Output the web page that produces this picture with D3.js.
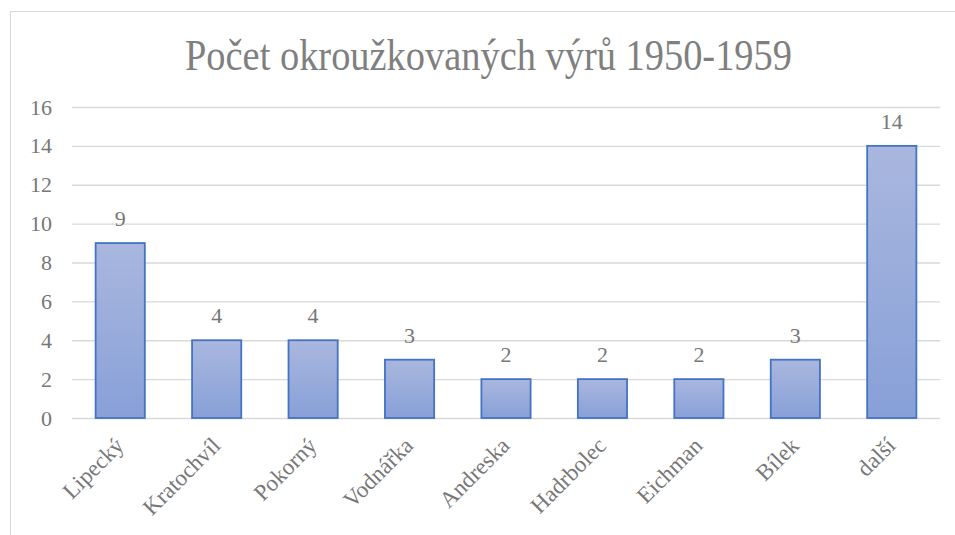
<!DOCTYPE html>
<html><head><meta charset="utf-8">
<script src="https://cdn.jsdelivr.net/npm/d3@7"></script>
</head><body style="margin:0">
<script>
const title = "Počet okroužkovaných výrů 1950-1959";
const categories = ["Lipecký","Kratochvíl","Pokorný","Vodnářka","Andreska","Hadrbolec","Eichman","Bílek","další"];
const values = [9,4,4,3,2,2,2,3,14];
const yTicks = [0,2,4,6,8,10,12,14,16];

const W = 955, H = 535;
const FF = '"Liberation Serif"';
const svg = d3.select("body").append("svg").attr("width", W).attr("height", H)
  .style("display","block").style("font-family", FF);

const defs = svg.append("defs");
const grad = defs.append("linearGradient").attr("id","bg").attr("x1",0).attr("y1",0).attr("x2",0).attr("y2",1);
grad.append("stop").attr("offset","0%").attr("stop-color","#a9b7de");
grad.append("stop").attr("offset","100%").attr("stop-color","#88a0d8");

svg.append("rect").attr("x",10.5).attr("y",11.5).attr("width",960).attr("height",540)
  .attr("fill","#fff").attr("stroke","#d9d9d9");

const m = {left:72, right:15, top:107, bottom:117};
const x = d3.scaleBand().domain(categories).range([m.left, W - m.right]).paddingInner(0.49).paddingOuter(0.245);
const y = d3.scaleLinear().domain([0,16]).range([H - m.bottom, m.top]);

svg.append("text").attr("x", 488.5).attr("y", 70).attr("text-anchor","middle")
  .style("font-family",FF).style("font-size","44px").attr("fill","#7f7f7f")
  .attr("textLength",607).attr("lengthAdjust","spacingAndGlyphs").text(title);

const yAxis = svg.append("g").attr("transform",`translate(${m.left},0)`)
  .call(d3.axisLeft(y).tickValues(yTicks).tickSize(-(W - m.right - m.left)).tickPadding(20));
yAxis.attr("font-family", null).attr("font-size", null);
yAxis.select(".domain").remove();
yAxis.selectAll(".tick line").attr("stroke","#d9d9d9").attr("stroke-width",1.3);
yAxis.selectAll(".tick text").style("font-family",FF).style("font-size","22px").attr("fill","#777777");

svg.selectAll("rect.bar").data(values).join("rect").attr("class","bar")
  .attr("x",(d,i)=>x(categories[i])).attr("width",x.bandwidth())
  .attr("y",d=>y(d)).attr("height",d=>y(0)-y(d))
  .attr("fill","url(#bg)").attr("stroke","#4472c4").attr("stroke-width",1.8);

svg.selectAll("text.val").data(values).join("text").attr("class","val")
  .attr("x",(d,i)=>x(categories[i])+x.bandwidth()/2).attr("y",d=>y(d)-17)
  .attr("text-anchor","middle").style("font-family",FF).style("font-size","22px").attr("fill","#777777")
  .text(d=>d);

const xAxis = svg.append("g").attr("transform",`translate(0,${y(0)})`)
  .call(d3.axisBottom(x).tickSize(0).tickPadding(0));
xAxis.attr("font-family", null).attr("font-size", null);
xAxis.select(".domain").remove();
xAxis.selectAll(".tick text")
  .style("font-family",FF).style("font-size","23px").attr("fill","#777777")
  .attr("text-anchor","end").attr("dy",0)
  .attr("transform","translate(5,29) rotate(-45)");
</script>
</body></html>
